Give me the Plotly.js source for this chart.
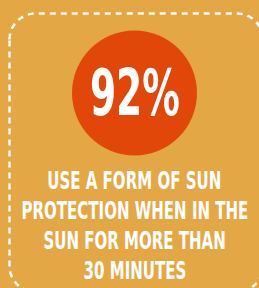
<!DOCTYPE html>
<html><head><meta charset="utf-8">
<script src="https://cdn.plot.ly/plotly-3.0.1.min.js"></script>
<style>html,body{margin:0;padding:0;background:#E3A845;}#c{width:259px;height:288px;}</style>
</head><body><div id="c"></div>
<script>
const statValues = [92];
const statUnits = ["%"];
const labelLines = ["USE A FORM OF SUN", "PROTECTION WHEN IN THE", "SUN FOR MORE THAN", "30 MINUTES"];

const W = 259, H = 288;
const bg = "#E3A845", circ = "#E2470A";
const font = "DejaVu Sans Condensed, DejaVu Sans, sans-serif";

// rounded dashed border path
const L = 9.5, T = 13.5, R = 263, B = 292, r = 26, k = 0.45;
const border = `M ${L} ${T + r} C ${L} ${T + r * k} ${L + r * k} ${T} ${L + r} ${T} L ${R - r} ${T} C ${R - r * k} ${T} ${R} ${T + r * k} ${R} ${T + r} L ${R} ${B - r} C ${R} ${B - r * k} ${R - r * k} ${B} ${R - r} ${B} L ${L + r} ${B} C ${L + r * k} ${B} ${L} ${B - r * k} ${L} ${B - r} Z`;

const data = [{
  type: "scatter", mode: "markers",
  x: [134.5], y: [93],
  marker: {size: 125, color: circ, line: {width: 0}},
  hoverinfo: "skip", showlegend: false
}];

const annotations = [{
  x: 134.5, y: 93, xref: "x", yref: "y", showarrow: false,
  text: "<b>" + statValues[0] + statUnits[0] + "</b>",
  font: {family: font, size: 64, color: "#ffffff"}, xanchor: "center", yanchor: "middle"
}];
labelLines.forEach((t, i) => {
  annotations.push({
    x: 134.5, y: 180 + i * 30, xref: "x", yref: "y", showarrow: false,
    text: "<b>" + t + "</b>",
    font: {family: font, size: 25, color: "#ffffff"}, xanchor: "center", yanchor: "middle"
  });
});

const layout = {
  width: W, height: H, margin: {l: 0, r: 0, t: 0, b: 0},
  paper_bgcolor: bg, plot_bgcolor: bg,
  xaxis: {range: [0, W], visible: false, fixedrange: true},
  yaxis: {range: [H, 0], visible: false, fixedrange: true},
  shapes: [{type: "path", path: border, xref: "x", yref: "y",
    line: {color: "#ffffff", width: 2.5, dash: "6px,5px"}, fillcolor: "rgba(0,0,0,0)"}],
  annotations: annotations
};

function condense() {
  const els = Array.from(document.querySelectorAll("#c .annotation-text"));
  if (els.length < 3) return;
  els.forEach(e => e.removeAttribute("transform"));
  const sBig = 90 / els[0].getBBox().width;
  const sTxt = 227 / els[2].getBBox().width;
  els.forEach((el, i) => {
    const bb = el.getBBox();
    const cx = bb.x + bb.width / 2;
    const s = i === 0 ? sBig : sTxt;
    el.setAttribute("transform", `translate(${cx},0) scale(${s},1) translate(${-cx},0)`);
  });
}

Plotly.newPlot("c", data, layout, {staticPlot: true, displayModeBar: false}).then(condense);
</script></body></html>
